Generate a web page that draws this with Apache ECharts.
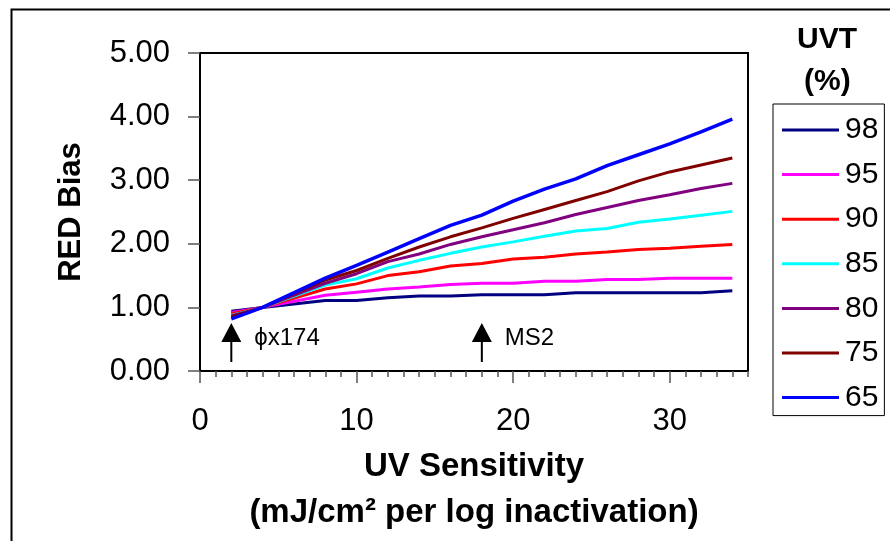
<!DOCTYPE html>
<html>
<head>
<meta charset="utf-8">
<script src="https://cdn.jsdelivr.net/npm/echarts@6/dist/echarts.min.js"></script>
<style>html,body{margin:0;padding:0;background:#fff}#c{width:890px;height:541px}</style>
</head>
<body>
<div id="c"></div>
<script>
// ---- data ----
const xValues = [2, 4, 8, 10, 12, 14, 16, 18, 20, 22, 24, 26, 28, 30, 32, 34];
const uvt98 = [0.94, 1.00, 1.11, 1.11, 1.15, 1.18, 1.18, 1.20, 1.20, 1.20, 1.23, 1.23, 1.23, 1.23, 1.23, 1.26];
const uvt95 = [0.92, 1.00, 1.19, 1.24, 1.29, 1.32, 1.36, 1.38, 1.38, 1.41, 1.41, 1.44, 1.44, 1.46, 1.46, 1.46];
const uvt90 = [0.90, 1.00, 1.29, 1.37, 1.50, 1.56, 1.65, 1.69, 1.76, 1.79, 1.84, 1.87, 1.91, 1.93, 1.96, 1.99];
const uvt85 = [0.875, 1.00, 1.35, 1.45, 1.62, 1.74, 1.85, 1.95, 2.03, 2.12, 2.20, 2.24, 2.34, 2.39, 2.45, 2.51];
const uvt80 = [0.865, 1.00, 1.38, 1.53, 1.72, 1.84, 1.99, 2.11, 2.22, 2.33, 2.46, 2.57, 2.68, 2.77, 2.87, 2.95];
const uvt75 = [0.85, 1.00, 1.43, 1.58, 1.77, 1.95, 2.11, 2.25, 2.40, 2.54, 2.68, 2.82, 2.99, 3.13, 3.24, 3.35];
const uvt65 = [0.82, 1.00, 1.46, 1.66, 1.87, 2.08, 2.29, 2.45, 2.67, 2.86, 3.02, 3.23, 3.40, 3.57, 3.76, 3.96];
const seriesNames = ['98', '95', '90', '85', '80', '75', '65'];
const seriesValues = [uvt98, uvt95, uvt90, uvt85, uvt80, uvt75, uvt65];
const seriesColors = ['#000080', '#FF00FF', '#FF0000', '#00FFFF', '#800080', '#800000', '#0000FF'];
const xTickLabels = [0, 10, 20, 30];
const yTickLabels = [0, 1, 2, 3, 4, 5];
const annotationNames = ['\u03D5x174', 'MS2'];
const annotationX = [2, 18];
const annotationY = [0.45, 0.45];

const FONT = 'Liberation Sans, Arial, sans-serif';
const chart = echarts.init(document.getElementById('c'), null, {renderer: 'canvas'});

const lineSeries = seriesNames.map((n, i) => ({
  name: n,
  type: 'line',
  xAxisIndex: 0,
  data: xValues.map((x, j) => [x, seriesValues[i][j]]),
  showSymbol: false,
  symbol: 'none',
  color: seriesColors[i],
  lineStyle: {width: i === 6 ? 3.5 : 3, color: seriesColors[i]},
  animation: false
}));

const arrowPath = 'path://M10,0 L20,19 L11,19 L11,39 L9,39 L9,19 L0,19 Z';
const annotationSeries = {
  type: 'scatter',
  xAxisIndex: 0,
  data: annotationX.map((x, i) => ({value: [x, annotationY[i]], name: annotationNames[i]})),
  symbol: arrowPath,
  symbolSize: [20, 39],
  itemStyle: {color: '#000', opacity: 1},
  label: {
    show: true, position: 'right', distance: 13, offset: [0, -4],
    formatter: p => p.name, fontSize: 24, color: '#000', fontFamily: FONT
  },
  emphasis: {disabled: true},
  silent: true,
  animation: false
};

chart.setOption({
  backgroundColor: '#fff',
  animation: false,
  textStyle: {fontFamily: FONT},
  title: [
    {text: 'UVT', left: 792, top: 20, padding: 5,
     textStyle: {fontSize: 30, fontWeight: 'bold', color: '#000', fontFamily: FONT}},
    {text: '(%)', left: 799, top: 62, padding: 5,
     textStyle: {fontSize: 30, fontWeight: 'bold', color: '#000', fontFamily: FONT}}
  ],
  graphic: [{
    type: 'rect', left: 9, top: 7, silent: true,
    shape: {width: 1000, height: 1000},
    style: {fill: 'none', stroke: '#000', lineWidth: 2}
  }],
  legend: {
    orient: 'vertical',
    left: 773, top: 104,
    padding: [11, 6, 3, 9],
    itemGap: 14.6,
    itemWidth: 57, itemHeight: 3,
    icon: 'rect',
    borderColor: '#000', borderWidth: 1,
    backgroundColor: '#fff',
    data: seriesNames,
    textStyle: {fontSize: 30, color: '#000', fontFamily: FONT, lineHeight: 30, padding: [0, 0, 0, 1]}
  },
  grid: {
    left: 200, right: 142, top: 53, bottom: 170,
    show: true, borderColor: '#000', borderWidth: 2, backgroundColor: 'transparent'
  },
  xAxis: [{
    type: 'value', min: 0, max: 35,
    name: 'UV Sensitivity\n(mJ/cm\u00B2 per log inactivation)',
    nameLocation: 'middle', nameGap: 73,
    nameTextStyle: {fontSize: 33, fontWeight: 'bold', color: '#000', lineHeight: 46, fontFamily: FONT},
    axisLine: {show: true, lineStyle: {color: '#000', width: 2}},
    axisTick: {show: true, length: 12, lineStyle: {color: '#555', width: 1.5}, customValues: xTickLabels},
    axisLabel: {fontSize: 31, color: '#000', margin: 35, customValues: xTickLabels, fontFamily: FONT},
    splitLine: {show: false}
  }, {
    type: 'value', min: 0, max: 35, interval: 1, position: 'bottom',
    axisLine: {show: false},
    axisTick: {show: true, length: 6, lineStyle: {color: '#555', width: 1.5}},
    axisLabel: {show: false},
    splitLine: {show: false}
  }],
  yAxis: {
    type: 'value', min: 0, max: 5, interval: 1,
    name: 'RED Bias', nameLocation: 'middle', nameGap: 113, nameRotate: 90,
    nameTextStyle: {fontSize: 31, fontWeight: 'bold', color: '#000', fontFamily: FONT},
    axisLine: {show: true, lineStyle: {color: '#000', width: 2}},
    axisTick: {show: true, length: 12, lineStyle: {color: '#555', width: 1.5}},
    axisLabel: {fontSize: 31, color: '#000', margin: 30, fontFamily: FONT,
      customValues: yTickLabels, formatter: v => v.toFixed(2)},
    splitLine: {show: false}
  },
  series: [...lineSeries, annotationSeries]
});
</script>
</body>
</html>
